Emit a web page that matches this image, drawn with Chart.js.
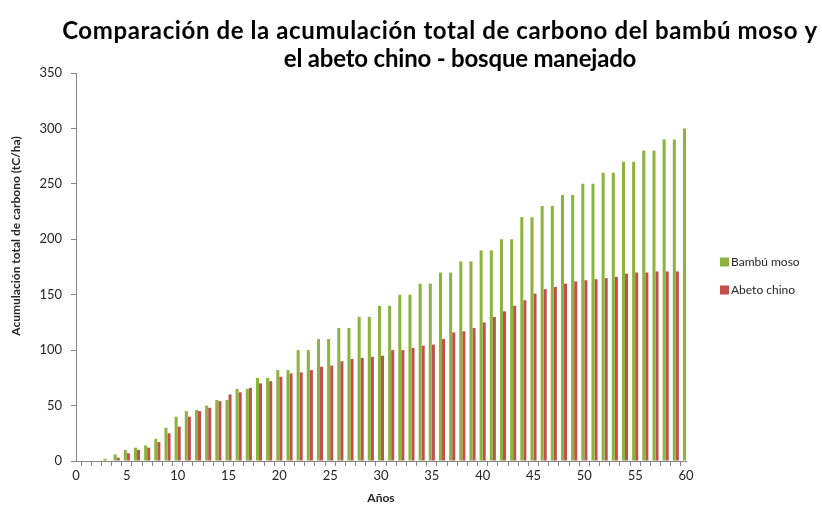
<!DOCTYPE html>
<html>
<head>
<meta charset="utf-8">
<script src="https://cdn.jsdelivr.net/npm/chart.js@4/dist/chart.umd.min.js"></script>
<style>
    html, body { margin: 0; padding: 0; background: #fff; }
    #wrap { width: 822px; height: 505px; }
</style>
</head>
<body>
<div id="wrap"><canvas id="chart1" width="822" height="505"></canvas></div>
<script>
// Años 0..60
const years = [];
for (let i = 0; i <= 60; i++) {
    years.push(String(i));
}

const titleLines = ["Comparación de la acumulación total de carbono del bambú moso y", "el abeto chino - bosque manejado"]
const yTitle = "Acumulación total de carbono (tC/ha)"
const xTitle = "Años"

const bambu = [0, 0, 0, 2, 6, 10, 12, 14, 20, 30,
    40, 45, 46, 50, 55, 55, 65, 65, 75, 75,
    82, 82, 100, 100, 110, 110, 120, 120, 130, 130,
    140, 140, 150, 150, 160, 160, 170, 170, 180, 180,
    190, 190, 200, 200, 220, 220, 230, 230, 240, 240,
    250, 250, 260, 260, 270, 270, 280, 280, 290, 290,
    300]

const abeto = [0, 0, 0, 0, 3, 7, 10, 12, 17, 25,
    31, 40, 45, 48, 54, 60, 62, 66, 70, 72,
    76, 79, 80, 82, 85, 86, 90, 92, 93, 94,
    95, 100, 100, 102, 104, 105, 110, 116, 117, 120,
    125, 130, 135, 140, 145, 151, 155, 157, 160, 162,
    163, 164, 165, 166, 169, 170, 170, 171, 171, 171,
    171]

const yTicks = [0, 50, 100, 150, 200, 250, 300, 350]

const axisColor = "#868686"
const textColor = "#262626"
const fontName = "Lato"

// titulo en dos lineas + titulo del eje y (no centrado en el area, como el original)
const titlePlugin = {
    id: "titulo",
    afterDraw(chart) {
        const ctx = chart.ctx;
        ctx.save();
        ctx.fillStyle = "#000";
        ctx.font = "bold 24px " + fontName;
        ctx.textAlign = "center";
        ctx.textBaseline = "alphabetic";
        ctx.letterSpacing = "0.6px";
        ctx.fillText(titleLines[0], 440, 39);
        ctx.letterSpacing = "-0.2px";
        ctx.fillText(titleLines[1], 460, 67);
        ctx.letterSpacing = "0px";

        ctx.fillStyle = textColor;
        ctx.font = "bold 12px " + fontName;
        ctx.textBaseline = "middle";
        ctx.translate(16, 236);
        ctx.rotate(-Math.PI / 2);
        ctx.fillText(yTitle, 0, 0);
        ctx.restore();
    }
}

// leyenda a la derecha
const legendPlugin = {
    id: "leyenda",
    afterDraw(chart) {
        const ctx = chart.ctx;
        ctx.save();
        ctx.font = "12px " + fontName;
        ctx.textBaseline = "middle";
        chart.data.datasets.forEach((ds, i) => {
            let y = 262 + i * 28;
            ctx.fillStyle = ds.backgroundColor;
            ctx.fillRect(720, y - 4.5, 9, 9);
            ctx.fillStyle = textColor;
            ctx.fillText(ds.label, 731, y);
        });
        ctx.restore();
    }
}

let ctx1 = document.querySelector("#chart1")
let config = {
    type: "bar",
    data: {
        labels: years,
        datasets: [
            {
                label: "Bambú moso",
                data: bambu,
                backgroundColor: "#8DB43E",
                borderWidth: 0
            },
            {
                label: "Abeto chino",
                data: abeto,
                backgroundColor: "#C4504D",
                borderWidth: 0
            }
        ]
    },
    options: {
        responsive: false,
        animation: false,
        layout: {
            padding: { top: 73, right: 136, bottom: 0, left: 0 }
        },
        datasets: {
            bar: {
                categoryPercentage: 0.6,
                barPercentage: 1.0
            }
        },
        plugins: {
            legend: { display: false },
            title: { display: false },
            tooltip: { enabled: false }
        },
        scales: {
            x: {
                type: "category",
                offset: false,
                afterFit(scale) { scale.height = 44; },
                grid: {
                    drawOnChartArea: false,
                    drawTicks: true,
                    tickLength: 5,
                    color: axisColor
                },
                border: { color: axisColor },
                ticks: {
                    autoSkip: false,
                    maxRotation: 0,
                    padding: 2,
                    color: textColor,
                    font: { family: fontName, size: 13 },
                    callback: (v, i) => (i % 5 === 0 ? years[i] : "")
                },
                title: {
                    display: true,
                    text: xTitle,
                    color: textColor,
                    font: { family: fontName, size: 12, weight: "bold" },
                    padding: { top: 0, bottom: 0 }
                }
            },
            y: {
                min: 0,
                max: 350,
                afterFit(scale) { scale.width = 76; },
                afterBuildTicks(scale) {
                    scale.ticks = yTicks.map(v => ({ value: v }));
                },
                grid: {
                    drawOnChartArea: false,
                    drawTicks: true,
                    tickLength: 5,
                    color: axisColor
                },
                border: { color: axisColor },
                ticks: {
                    padding: 9,
                    color: textColor,
                    font: { family: fontName, size: 13 }
                }
            }
        }
    },
    plugins: [titlePlugin, legendPlugin]
}
let chart1 = new Chart(ctx1, config)
</script>
</body>
</html>
